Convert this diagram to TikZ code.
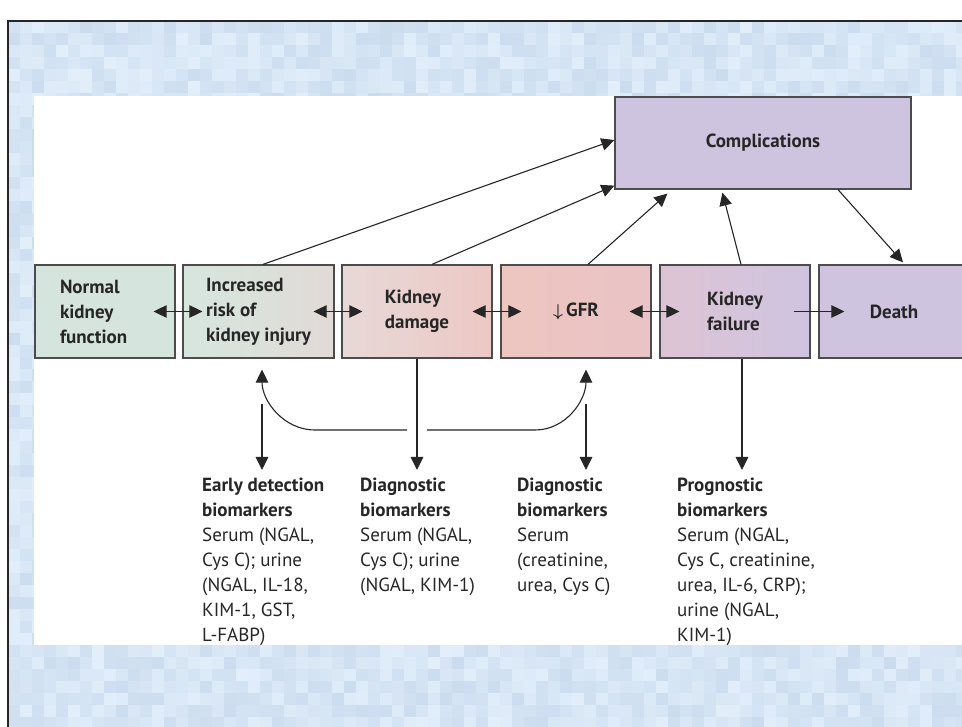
\documentclass[tikz,border=0pt]{standalone}
\usepackage{fontspec}
\setmainfont{PT Sans}
\usepackage{tikz}
\usetikzlibrary{arrows.meta}
\definecolor{bglight}{RGB}{226,238,250}
\definecolor{bgdark}{RGB}{203,220,239}
\definecolor{normalc}{RGB}{213,229,222}
\definecolor{riskl}{RGB}{214,230,223}
\definecolor{riskr}{RGB}{225,218,214}
\definecolor{damagel}{RGB}{231,217,215}
\definecolor{damager}{RGB}{236,200,196}
\definecolor{gfrl}{RGB}{238,198,192}
\definecolor{gfrr}{RGB}{233,195,198}
\definecolor{faill}{RGB}{221,196,212}
\definecolor{failr}{RGB}{207,196,224}
\definecolor{lilac}{RGB}{207,196,224}
\tikzset{stage/.style={draw=black!70, line width=1.2pt, minimum height=93pt, inner sep=0pt,
  align=left, text=black!85, font=\bfseries\fontsize{19}{25}\selectfont},
%text under the row of stages
marker/.style={anchor=north west, inner sep=0pt, outer ysep=8pt, align=left, text=black!85,
  font=\fontsize{19}{25}\selectfont},
link/.style={line width=1.1pt, draw=black!85}}

\begin{document}
\begin{tikzpicture}[x=1pt,y=1pt,>={Triangle[length=13pt,width=12.5pt]}]
\useasboundingbox (0,0) rectangle (962,-727);
% background
\pgfmathsetseed{11}
\foreach \i in {0,...,79}
  \foreach \j in {0,...,59}
  {
    \pgfmathsetmacro\r{rnd*100}
    \fill[bgdark!\r!bglight] (8+\i*12,-21-\j*12) rectangle ++(12,-12);
  }
\draw[line width=2pt, black!85] (8,-727) -- (8,-21) -- (962,-21);
\fill[white] (34,-96) rectangle (962,-645);

% stages
\node[stage, fill=normalc, minimum width=140pt, text width=90pt] (normal) at (105,-311.5) {Normal\\kidney\\function};
\node[stage, left color=riskl, right color=riskr, minimum width=151pt] (risk) at (258.5,-311.5) {Increased\\risk of\\kidney injury};
\node[stage, left color=damagel, right color=damager, minimum width=150pt] (damage) at (417,-311.5) {Kidney\\damage};
\node[stage, left color=gfrl, right color=gfrr, minimum width=150pt] (gfr) at (576,-311.5) {{\boldmath$\downarrow$}\,GFR};
\node[stage, left color=faill, right color=failr, minimum width=150pt] (failure) at (735,-311.5) {Kidney\\failure};
\node[stage, fill=lilac, minimum width=150pt] (death) at (894,-311.5) {Death};
\node[stage, fill=lilac, minimum width=296pt, minimum height=92pt] (compl) at (763,-143) {Complications};

\draw[link,<->] ([xshift=-22pt]normal.east) -- ([xshift=20pt]risk.west);
\draw[link,<->] ([xshift=-21pt]risk.east) -- ([xshift=21pt]damage.west);
\draw[link,<->] ([xshift=-20pt]damage.east) -- ([xshift=21pt]gfr.west);
\draw[link,<->] ([xshift=-22pt]gfr.east) -- ([xshift=20pt]failure.west);
\draw[link,->] ([xshift=-17pt]failure.east) -- ([xshift=26pt]death.west);

% to complications
\draw[link,->] ([xshift=4.5pt]risk.north) -- ([yshift=3pt]compl.west);
\draw[link,->] ([xshift=15pt]damage.north) -- ([yshift=4pt]compl.south west);
\draw[link,->] ([xshift=12pt]gfr.north) -- ([xshift=53pt,yshift=-4pt]compl.south west);
\draw[link,->] ([xshift=6pt]failure.north) -- ([xshift=108pt,yshift=-3pt]compl.south west);
\draw[link,->] ([xshift=75pt]compl.south) -- ([xshift=9pt,yshift=2pt]death.north);

% biomarkers
\node[marker] (early) at (202,-470) {\textbf{Early detection}\\\textbf{biomarkers}\\Serum (NGAL,\\Cys C); urine\\(NGAL, IL-18,\\KIM-1, GST,\\L-FABP)};
\node[marker] (diag1) at (360,-470) {\textbf{Diagnostic}\\\textbf{biomarkers}\\Serum (NGAL,\\Cys C); urine\\(NGAL, KIM-1)};
\node[marker] (diag2) at (517,-470) {\textbf{Diagnostic}\\\textbf{biomarkers}\\Serum\\(creatinine,\\urea, Cys C)};
\node[marker] (prog) at (677,-470) {\textbf{Prognostic}\\\textbf{biomarkers}\\Serum (NGAL,\\Cys C, creatinine,\\urea, IL-6, CRP);\\urine (NGAL,\\KIM-1)};

\coordinate (riskup) at ([xshift=3.5pt,yshift=-11pt]risk.south);
\coordinate (gfrup) at ([xshift=10pt,yshift=-11pt]gfr.south);
\coordinate (bendL) at (315,-430);
\coordinate (gapL) at (407,-430);
\coordinate (gapR) at (427,-430);
\coordinate (bendR) at (535,-430);
\coordinate (failbot) at ([xshift=7pt]failure.south);

\draw[link,<-] (riskup) to[out=-90,in=180] (bendL) -- (gapL);
\draw[link,->] (gapR) -- (bendR) to[out=0,in=-90] (gfrup);
\draw[link,->] ([yshift=-34pt]riskup) -- (riskup |- early.north);
\draw[link,->] ([yshift=-34pt]gfrup) -- (gfrup |- diag2.north);
\draw[link,->] (damage.south) -- (damage.south |- diag1.north);
\draw[link,->] (failbot) -- (failbot |- prog.north);

\end{tikzpicture}
\end{document}
